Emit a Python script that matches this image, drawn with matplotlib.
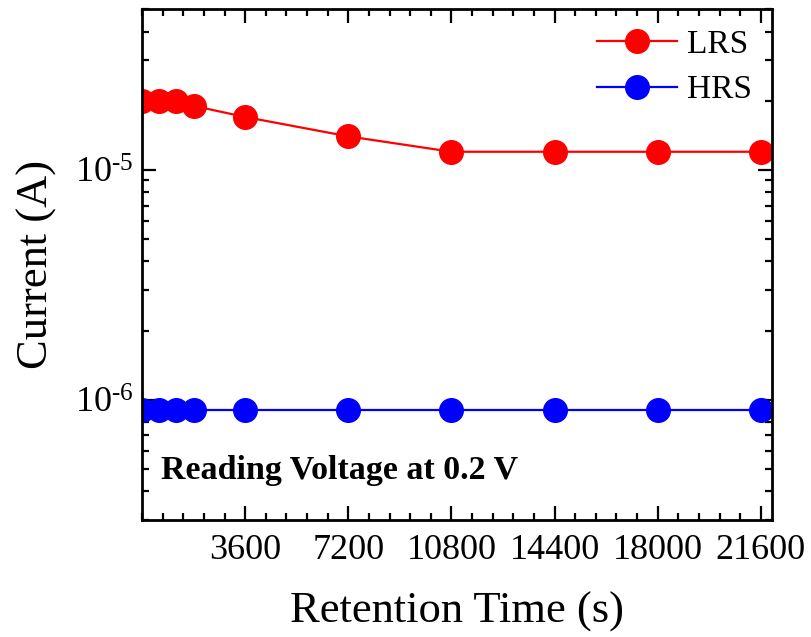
import matplotlib
matplotlib.use("Agg")
import matplotlib.pyplot as plt
from matplotlib.ticker import MultipleLocator, LogLocator, FuncFormatter
import numpy as np

plt.rcParams['font.family'] = 'Liberation Serif'
plt.rcParams['mathtext.fontset'] = 'custom'
plt.rcParams['mathtext.rm'] = 'Liberation Serif'
plt.rcParams['mathtext.it'] = 'Liberation Serif:italic'

# retention time (s)
time_s = [0, 600, 1200, 1800, 3600, 7200, 10800, 14400, 18000, 21600]
# current (A)
lrs = [2.0e-5, 2.0e-5, 2.0e-5, 1.9e-5, 1.7e-5, 1.4e-5, 1.2e-5, 1.2e-5, 1.2e-5, 1.2e-5]
hrs = [9.0e-7] * 10
xticks = [3600, 7200, 10800, 14400, 18000, 21600]

fig = plt.figure(figsize=(8.12, 6.37), dpi=100)
ax = fig.add_axes([0.1749, 0.1837, 0.7762, 0.8017])

ax.plot(time_s, lrs, '-o', color='red', lw=1.6, ms=17, label='LRS')
ax.plot(time_s, hrs, '-o', color='blue', lw=1.6, ms=17, label='HRS')

ax.set_yscale('log')
ax.set_xlim(0, 22000)
ax.set_ylim(3e-7, 5e-5)

ax.set_xticks(xticks)
ax.xaxis.set_minor_locator(MultipleLocator(720))
ax.yaxis.set_major_locator(LogLocator(base=10, numticks=10))
ax.yaxis.set_minor_locator(LogLocator(base=10, subs=np.arange(2, 10), numticks=20))
ax.yaxis.set_minor_formatter(plt.NullFormatter())

def pow_fmt(v, pos):
    e = int(round(np.log10(v)))
    return r'10$^{\text{%d}}$' % e

ax.yaxis.set_major_formatter(FuncFormatter(pow_fmt))

for s in ax.spines.values():
    s.set_linewidth(2)
ax.tick_params(which='both', direction='in', top=True, right=True, width=1.6)
ax.tick_params(which='major', length=10, labelsize=26)
ax.tick_params(axis='x', which='major', pad=10)
ax.tick_params(axis='y', which='major', pad=6)
ax.tick_params(which='minor', length=5)

ax.set_xlabel('Retention Time (s)', fontsize=32, labelpad=18)
ax.set_ylabel('Current (A)', fontsize=32, labelpad=13)

ax.text(0.03, 0.097, 'Reading Voltage at 0.2 V', transform=ax.transAxes,
        fontsize=24.5, fontweight='bold', va='center', ha='left')

ax.legend(loc='upper right', fontsize=24, frameon=False, handlelength=2.4,
          handletextpad=0.3, labelspacing=0.45, borderaxespad=0.2)

fig.savefig('out.png', dpi=100)
